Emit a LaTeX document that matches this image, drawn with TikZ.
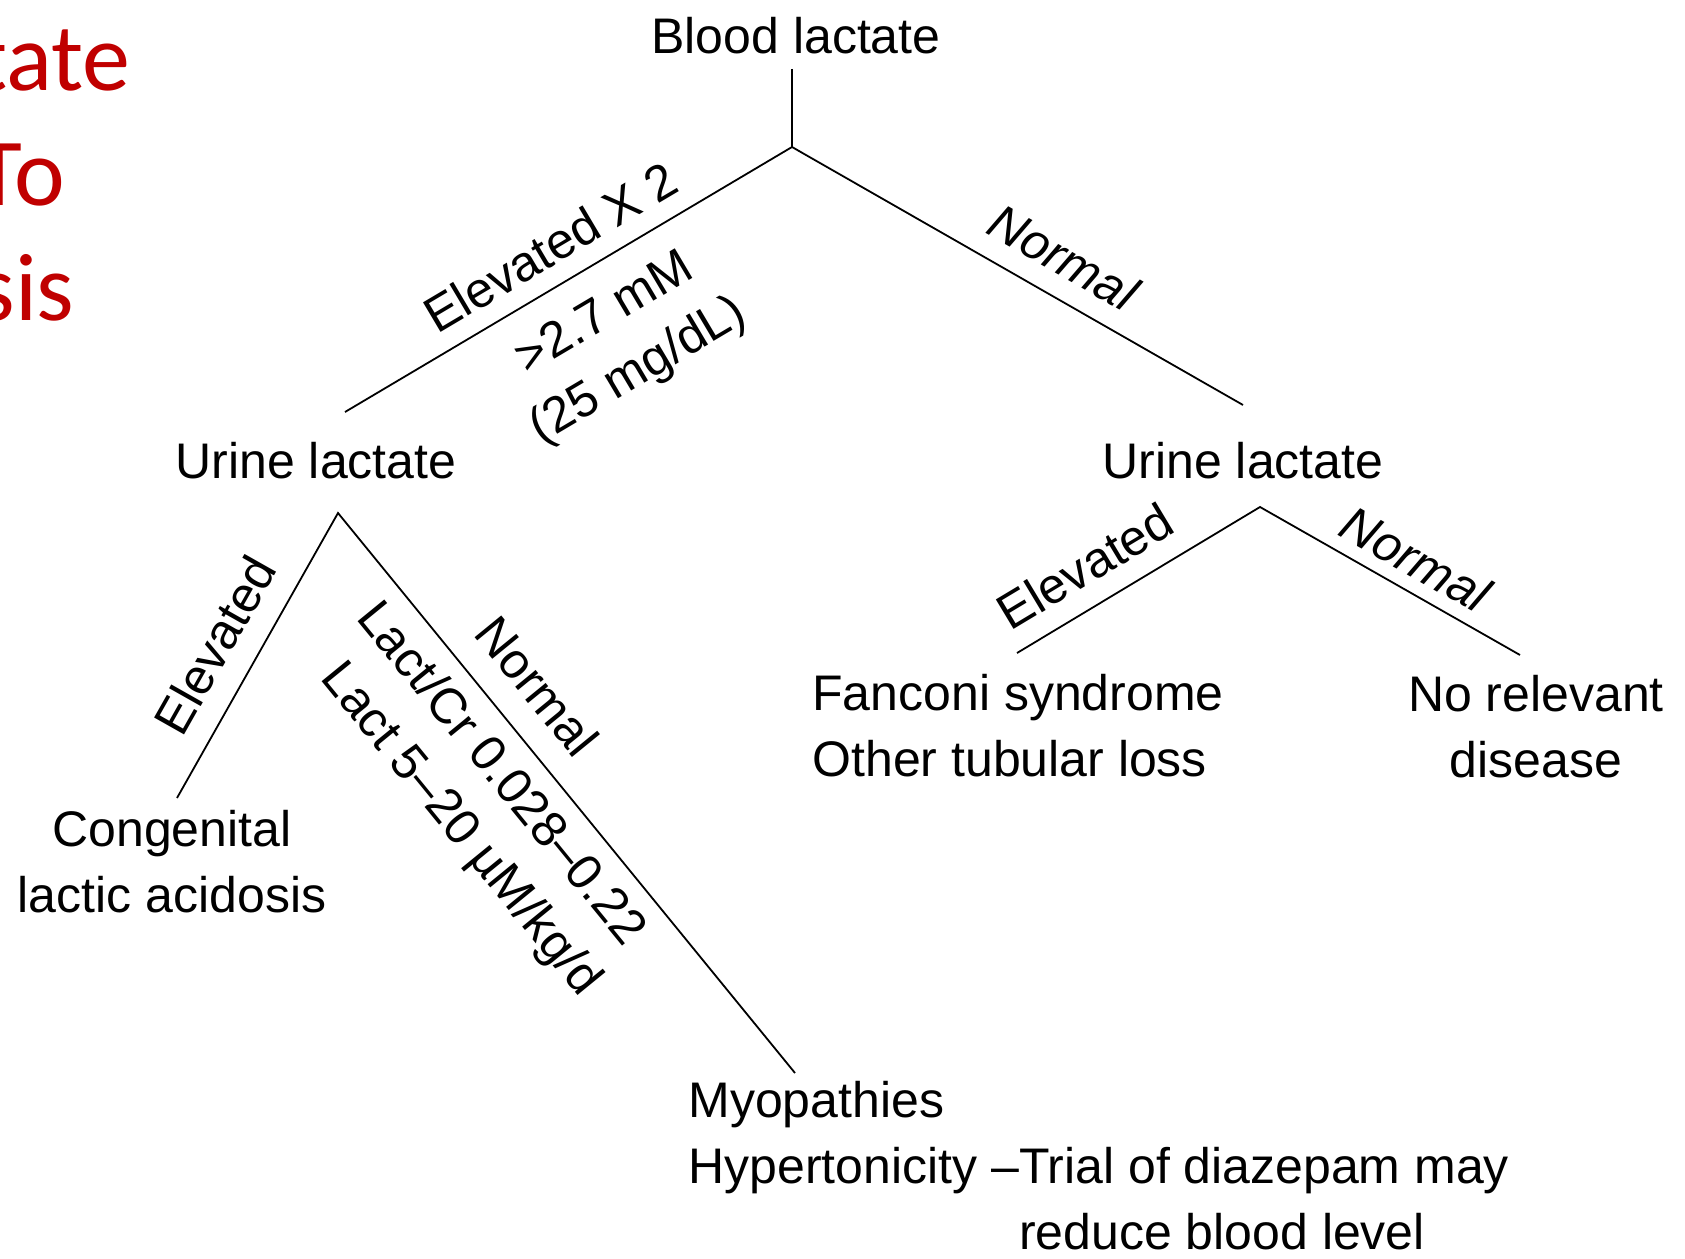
\documentclass[tikz,border=0pt]{standalone}
\usepackage{fontspec}
\setmainfont{Liberation Sans}
\newfontfamily\slidefont{Carlito}
\definecolor{slidered}{RGB}{192,0,0}

\begin{document}
\begin{tikzpicture}[x=0.5pt, y=-0.5pt,
        txt/.style={font=\fontsize{25}{33}\selectfont, inner sep=0pt},
        lbl/.style={font=\fontsize{25}{33}\selectfont, sloped, inner sep=3pt},
        ttl/.style={anchor=base east, inner sep=0pt, text=slidered, font=\slidefont\fontsize{48}{58}\selectfont},
        branch/.style={line width=0.9pt}]
    \useasboundingbox (0,0) rectangle (1685,1258);
    % cut-off slide title
    \node[ttl] (ttlA) at (131,90) {tate};
    \node[ttl] (ttlB) at (65,205) {To};
    \node[ttl] (ttlC) at (75,320) {sis};
    % tree (multi-line nodes sit on the baseline of their last line)
    \node[txt, anchor=base] (blood) at (796,53) {Blood lactate};
    \node[txt, anchor=base] (urineL) at (316,478) {Urine lactate};
    \node[txt, anchor=base] (urineR) at (1243,478) {Urine lactate};
    \node[txt, anchor=base, align=center] (cong) at (172,912) {Congenital\\lactic acidosis};
    \node[txt, anchor=base west, align=left] (fanconi) at (812,776) {Fanconi syndrome\\Other tubular loss};
    \node[txt, anchor=base, align=center] (norel) at (1536,777) {No relevant\\disease};
    \node[txt, anchor=base west, align=left] (myo) at (688,1249)
        {Myopathies\\Hypertonicity –Trial of diazepam may\\\hphantom{Hypertonicity –}reduce blood level};
    \coordinate (top) at (792,147);
    \coordinate (ulIn) at (345,412);
    \coordinate (urIn) at (1243,405);
    \coordinate (ulOut) at (338,513);
    \coordinate (urOut) at (1260,507);
    \coordinate (congIn) at (177,798);
    \coordinate (myoIn) at (795,1073);
    \coordinate (fanIn) at (1017,653);
    \coordinate (norelIn) at (1520,655);
    \draw[branch, shorten <=7.5pt] (blood.south -| top) -- (top);
    \draw[branch] (ulIn) -- node[lbl, above=6pt, pos=0.501]{Elevated X 2}
        node[lbl, below=10pt, pos=0.526, align=center]{>2.7 mM\\(25 mg/dL)} (top)
        -- node[lbl, above=7pt, pos=0.559]{\itshape Normal} (urIn);
    \draw[branch] (congIn) -- node[lbl, above=8.5pt, pos=0.465]{Elevated} (ulOut)
        -- node[lbl, above=10pt, pos=0.36]{Normal}
        node[lbl, below=5pt, pos=0.43, align=left]{Lact/Cr 0.028–0.22\\\hspace*{12pt}Lact 5–20 µM/kg/d} (myoIn);
    \draw[branch] (fanIn) -- node[lbl, above=7pt, pos=0.363]{Elevated} (urOut)
        -- node[lbl, above=3.4pt, pos=0.538]{\itshape Normal} (norelIn);
\end{tikzpicture}
\end{document}
